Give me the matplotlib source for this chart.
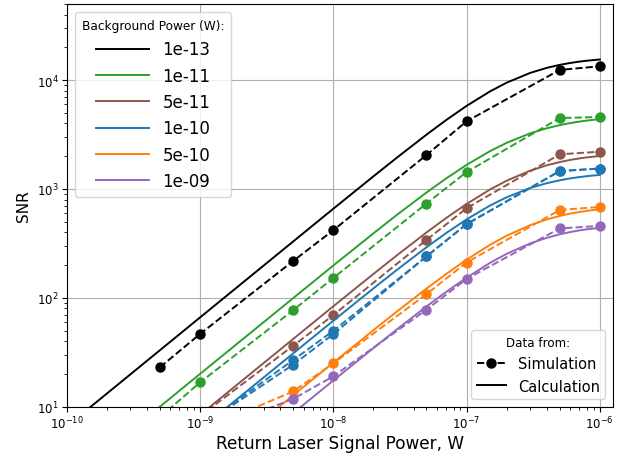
import matplotlib
matplotlib.use("Agg")
import matplotlib.pyplot as plt
from matplotlib.lines import Line2D

# background power levels (W) and their colours
bg_labels = ["1e-13", "1e-11", "5e-11", "1e-10", "5e-10", "1e-09"]
bg_colors = ["black", "tab:green", "tab:brown", "tab:blue", "tab:orange", "tab:purple"]

# simulation points (W) and SNR values
sim_power = [5e-10, 1e-9, 5e-9, 1e-8, 5e-8, 1e-7, 5e-7, 1e-6]
sim_black = [23, 46.5, 218, 418, 2050, 4180, 12400, 13400]
sim_green = [8, 16.7, 77, 152, 735, 1430, 4480, 4580]
sim_brown = [4, 8.2, 36.3, 69.3, 340, 665, 2080, 2200]
sim_blue = [3, 6.5, 24.3, 46.4, 240, 475, 1460, 1540]
sim_blue_rerun = [3, 6.5, 26.8, 49.8, 240, 475, 1460, 1540]
sim_orange = [3, 6, 13.8, 25, 108, 211, 641, 684]
sim_purple = [2.5, 5.5, 11.8, 19, 77.6, 149, 434, 458]

# calculated curves
calc_power = [1e-10, 1e-9, 1e-8, 2e-8, 3e-8, 5e-8, 7e-8, 1e-7, 1.5e-7,
              2e-7, 3e-7, 4e-7, 5e-7, 6e-7, 7e-7, 8e-7, 1e-6]
calc_black = [6.6, 66, 658, 1306, 1939, 3152, 4279, 5795, 7878,
              9475, 11644, 12960, 13804, 14371, 14780, 15074, 15470]
calc_green = [2, 20, 198, 391, 578, 927, 1245, 1664, 2226,
              2655, 3244, 3612, 3861, 4031, 4156, 4251, 4384]
calc_brown = [0.84, 8.4, 83.6, 165.6, 245.6, 398, 539, 728, 989,
              1191, 1472, 1650, 1766, 1850, 1907, 1950, 2009]
calc_blue = [0.62, 6.2, 61.6, 122, 180.5, 291, 392, 525.5, 704.6,
             839, 1021, 1130, 1202, 1251, 1285, 1311, 1346]
calc_orange = [0.255, 2.55, 25.4, 50.4, 74.8, 121.5, 165, 224, 307,
               372, 465, 525, 565, 594, 614, 630, 651]
calc_purple = [0.175, 1.75, 17.4, 34.5, 51.3, 83.2, 113, 153, 209.5,
               253.8, 316, 356, 383, 402, 416, 426, 440]

sim_series = [sim_black, sim_green, sim_brown, sim_blue, sim_orange, sim_purple]
calc_series = [calc_black, calc_green, calc_brown, calc_blue, calc_orange, calc_purple]

fig = plt.figure(figsize=(6.24, 4.56), dpi=100)
ax = fig.add_axes([0.107, 0.106, 0.875, 0.883])

calc_handles = []
for label, color, sim, calc in zip(bg_labels, bg_colors, sim_series, calc_series):
    line, = ax.plot(calc_power, calc, color=color, linewidth=1.4, label=label)
    calc_handles.append(line)
    ax.plot(sim_power, sim, color=color, linestyle="--", marker="o",
            markersize=6.5, linewidth=1.4)
    if sim is sim_blue:
        ax.plot(sim_power, sim_blue_rerun, color=color, linestyle="--", marker="o",
                markersize=6.5, linewidth=1.4)

ax.set_xscale("log")
ax.set_yscale("log")
ax.set_xlim(1e-10, 1.25e-6)
ax.set_ylim(10, 5e4)
ax.grid(True, which="major", color="#b0b0b0", linewidth=0.8)
ax.tick_params(labelsize=8.5, pad=2.5)
ax.set_xlabel("Return Laser Signal Power, W", fontsize=12.2, labelpad=1.5)
ax.set_ylabel("SNR", fontsize=11)

leg1 = ax.legend(handles=calc_handles, title="Background Power (W):",
                 loc="upper left", fontsize=12, title_fontsize=8.7,
                 handlelength=3.2)
ax.add_artist(leg1)

type_handles = [
    Line2D([], [], color="black", linestyle="--", marker="o", markersize=6.5, linewidth=1.4),
    Line2D([], [], color="black", linewidth=1.4),
]
ax.legend(handles=type_handles, labels=["Simulation", "Calculation"],
          title="Data from:", loc="lower right", fontsize=10.5, title_fontsize=8.6)

fig.savefig("out.png", dpi=100)
